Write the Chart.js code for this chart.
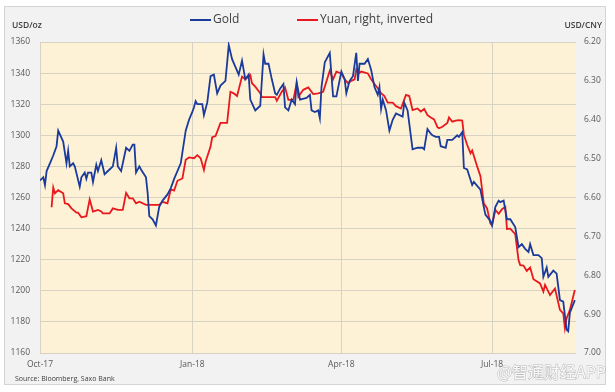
<!DOCTYPE html>
<html>
<head>
<meta charset="utf-8">
<script src="https://cdn.jsdelivr.net/npm/chart.js@4/dist/chart.umd.min.js"></script>
<style>
  html, body { margin: 0; padding: 0; background: #fff; }
  canvas { display: block; }
</style>
</head>
<body>
<canvas id="chart" width="615" height="392"></canvas>
<script>
// days counted from 1 Oct 2017
const goldDays = [0,2,3,4,6,8,10,11,14,16,17,18,20,21,24,25,27,28,29,31,32,34,35,37,39,42,44,46,47,49,52,54,56,57,58,60,61,64,65,66,68,70,72,74,77,79,81,85,88,90,92,93,94,95,98,99,101,103,105,107,109,112,114,116,118,120,122,124,126,127,130,133,135,136,138,140,142,143,145,147,148,150,152,154,155,157,161,163,164,166,168,169,170,172,175,177,179,182,184,185,187,189,191,192,193,196,198,200,202,204,205,206,207,209,211,213,215,219,220,222,225,228,231,232,234,236,237,239,241,242,245,246,249,252,253,255,256,258,261,262,266,268,269,272,273,275,277,278,280,282,284,287,289,291,293,295,296,298,301,303,304,306,307,310,312,314,316,318,319,320,323];
const goldPrice = [1271,1273,1268,1277,1282,1287,1293,1303,1296,1282,1290,1280,1282,1280,1267,1273,1276,1272,1276,1276,1270,1281,1277,1284,1275,1278,1280,1292,1280,1277,1292,1290,1294,1294,1276,1280,1278,1273,1263,1248,1246,1242,1254,1258,1262,1266,1272,1282,1303,1310,1315,1318,1322,1320,1320,1313,1321,1338,1339,1327,1332,1335,1358,1349,1344,1339,1348,1336,1339,1323,1316,1319,1352,1346,1346,1336,1327,1326,1330,1333,1318,1316,1323,1320,1334,1323,1324,1326,1316,1315,1316,1311,1331,1347,1353,1325,1325,1341,1336,1327,1335,1338,1353,1335,1346,1346,1349,1342,1331,1326,1331,1317,1323,1316,1303,1310,1314,1312,1321,1316,1291,1292,1292,1291,1304,1301,1300,1299,1299,1293,1292,1297,1297,1300,1299,1302,1279,1278,1268,1270,1265,1254,1249,1245,1242,1254,1258,1257,1258,1246,1246,1241,1228,1230,1227,1225,1230,1223,1223,1221,1209,1215,1209,1213,1211,1194,1193,1175,1174,1186,1194];

const yuanDays = [7,8,9,11,14,15,17,19,22,23,25,28,30,32,35,37,38,42,44,47,50,52,54,56,58,60,64,72,74,77,79,81,83,86,88,90,93,95,97,99,100,103,104,106,109,113,115,117,119,122,124,127,128,130,133,134,142,143,146,148,150,153,155,156,159,162,165,168,171,175,177,179,182,184,186,188,190,191,193,194,198,200,202,204,206,208,210,213,215,218,221,223,225,228,230,232,234,236,238,240,241,243,246,247,249,251,253,255,256,258,260,261,264,266,268,270,272,273,275,277,279,281,282,284,287,289,290,292,294,296,298,302,304,305,308,311,314,316,317,318,320,323];
const yuanRate = [6.625,6.574,6.589,6.581,6.589,6.615,6.617,6.628,6.639,6.639,6.651,6.648,6.605,6.636,6.632,6.636,6.641,6.641,6.628,6.632,6.632,6.588,6.602,6.602,6.615,6.611,6.619,6.619,6.611,6.615,6.579,6.582,6.557,6.551,6.503,6.497,6.499,6.491,6.499,6.529,6.508,6.469,6.445,6.442,6.408,6.408,6.328,6.332,6.339,6.289,6.296,6.285,6.306,6.315,6.332,6.342,6.342,6.351,6.328,6.317,6.349,6.349,6.306,6.341,6.323,6.317,6.334,6.332,6.328,6.274,6.296,6.276,6.281,6.296,6.306,6.300,6.296,6.270,6.279,6.276,6.281,6.296,6.308,6.319,6.332,6.339,6.356,6.356,6.365,6.371,6.336,6.339,6.375,6.371,6.379,6.372,6.388,6.394,6.399,6.419,6.422,6.418,6.408,6.394,6.405,6.402,6.401,6.402,6.439,6.465,6.486,6.479,6.520,6.545,6.615,6.628,6.667,6.671,6.632,6.642,6.630,6.624,6.681,6.680,6.694,6.761,6.774,6.775,6.789,6.780,6.810,6.821,6.842,6.825,6.851,6.834,6.889,6.898,6.936,6.911,6.889,6.838];

const xTickDays = [0, 92, 182, 273];
const xTickLabels = ['Oct-17', 'Jan-18', 'Apr-18', 'Jul-18'];
const yuanTicks = [6.2, 6.3, 6.4, 6.5, 6.6, 6.7, 6.8, 6.9, 7.0];

const tickFont = { family: 'Open Sans', size: 8.5 };
const tickColor = '#595959';

const frame = {
  id: 'frame',
  beforeDraw(chart) {
    const { ctx, chartArea: a } = chart;
    ctx.save();
    ctx.fillStyle = '#ffffff';
    ctx.fillRect(0, 0, chart.width, chart.height);
    ctx.fillStyle = '#f2f2f2';
    ctx.fillRect(4.5, 6.5, 601, 378);
    ctx.strokeStyle = '#d4d4d4';
    ctx.lineWidth = 1;
    ctx.strokeRect(4.5, 6.5, 601, 378);
    ctx.fillStyle = '#fdf2d6';
    ctx.fillRect(a.left, a.top, a.right - a.left, a.bottom - a.top);
    ctx.restore();
  },
  afterDraw(chart) {
    const ctx = chart.ctx;
    ctx.save();
    // legend
    ctx.font = '12px "Open Sans"';
    ctx.textBaseline = 'middle';
    ctx.fillStyle = '#404040';
    ctx.lineWidth = 2;
    ctx.strokeStyle = '#1a3a9c';
    ctx.beginPath(); ctx.moveTo(190, 20); ctx.lineTo(211, 20); ctx.stroke();
    ctx.fillText('Gold', 213, 20);
    ctx.strokeStyle = '#e8191e';
    ctx.beginPath(); ctx.moveTo(297, 20); ctx.lineTo(318, 20); ctx.stroke();
    ctx.fillText('Yuan, right, inverted', 320, 20);
    // axis units
    ctx.font = '600 8.5px "Open Sans"';
    ctx.fillText('USD/oz', 12, 26);
    ctx.textAlign = 'right';
    ctx.fillText('USD/CNY', 602, 26);
    // source
    ctx.textAlign = 'left';
    ctx.font = '7px "Open Sans"';
    ctx.fillText('Source: Bloomberg, Saxo Bank', 15, 379);
    // watermark
    ctx.font = '16px "Noto Sans CJK SC"';
    ctx.textAlign = 'right';
    ctx.lineWidth = 1;
    ctx.strokeStyle = 'rgba(140,140,140,0.55)';
    ctx.fillStyle = 'rgba(255,255,255,0.9)';
    ctx.strokeText('@智通财经APP', 606, 372);
    ctx.fillText('@智通财经APP', 606, 372);
    ctx.restore();
  }
};

new Chart(document.getElementById('chart'), {
  type: 'line',
  data: {
    datasets: [
      {
        label: 'Gold',
        data: goldDays.map((d, i) => ({ x: d, y: goldPrice[i] })),
        borderColor: '#1a3a9c',
        borderWidth: 1.8,
        pointRadius: 0,
        yAxisID: 'y'
      },
      {
        label: 'Yuan, right, inverted',
        data: yuanDays.map((d, i) => ({ x: d, y: yuanRate[i] })),
        borderColor: '#e8191e',
        borderWidth: 1.8,
        pointRadius: 0,
        yAxisID: 'y1'
      }
    ]
  },
  options: {
    responsive: false,
    animation: false,
    layout: { padding: { left: 10, right: 10, top: 42, bottom: 14 } },
    plugins: { legend: { display: false }, tooltip: { enabled: false } },
    scales: {
      x: {
        type: 'linear',
        min: 0,
        max: 323.7,
        grid: { color: '#d8d2c5', drawTicks: false },
        border: { display: false },
        afterBuildTicks: s => { s.ticks = xTickDays.map(v => ({ value: v })); },
        afterFit: s => { s.height = 25; },
        ticks: {
          autoSkip: false,
          maxRotation: 0,
          padding: 6,
          font: tickFont,
          color: tickColor,
          callback: v => xTickLabels[xTickDays.indexOf(v)]
        }
      },
      y: {
        position: 'left',
        min: 1160,
        max: 1360,
        grid: { color: '#d8d2c5', drawTicks: false },
        border: { display: false },
        afterFit: s => { s.width = 30; },
        ticks: { stepSize: 20, padding: 10, font: tickFont, color: tickColor, callback: v => String(v) }
      },
      y1: {
        position: 'right',
        reverse: true,
        min: 6.2,
        max: 7.0,
        grid: { display: false, drawTicks: false },
        border: { display: false },
        afterBuildTicks: s => { s.ticks = yuanTicks.map(v => ({ value: v })); },
        afterFit: s => { s.width = 29; },
        ticks: { padding: 8, font: tickFont, color: tickColor, callback: v => v.toFixed(2) }
      }
    }
  },
  plugins: [frame]
});
</script>
</body>
</html>
